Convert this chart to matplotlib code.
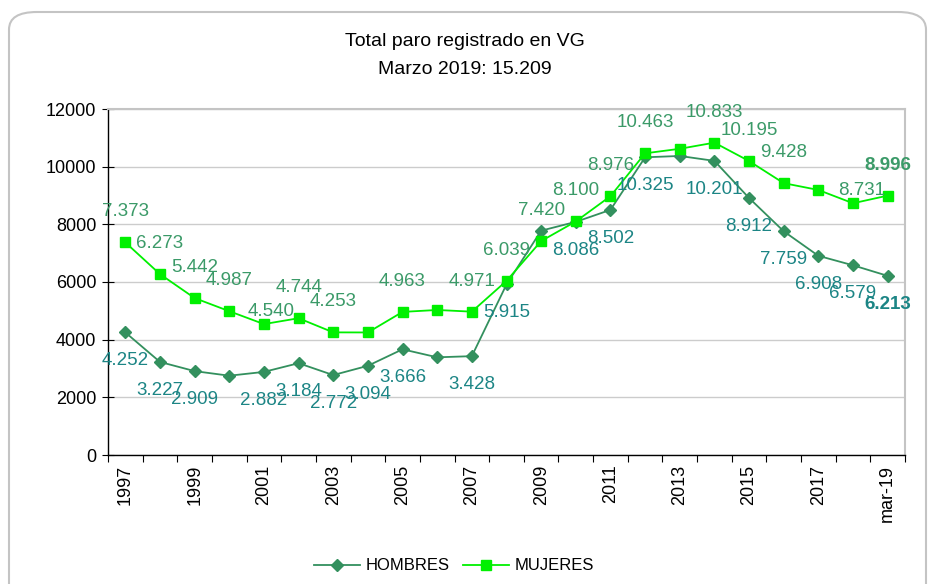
import numpy as np
import matplotlib.pyplot as plt
from matplotlib.patches import FancyBboxPatch

plt.rcParams['font.family'] = ['Liberation Sans', 'DejaVu Sans']

# datos
categorias = ['1997', '1998', '1999', '2000', '2001', '2002', '2003', '2004',
              '2005', '2006', '2007', '2008', '2009', '2010', '2011', '2012',
              '2013', '2014', '2015', '2016', '2017', '2018', 'mar-19']
hombres = [4252, 3227, 2909, 2750, 2882, 3184, 2772, 3094, 3666, 3388, 3428,
           5915, 7780, 8086, 8502, 10325, 10371, 10201, 8912, 7759, 6908, 6579, 6213]
mujeres = [7373, 6273, 5442, 4987, 4540, 4744, 4253, 4250, 4963, 5030, 4971,
           6039, 7420, 8100, 8976, 10463, 10620, 10833, 10195, 9428, 9192, 8731, 8996]
# puntos sin etiqueta en el original
sin_etq_h = ['2000', '2006', '2009', '2013']
sin_etq_m = ['2004', '2006', '2013', '2017']
# etiquetas movidas a mano en el original (desplazamiento en puntos)
desp_m = {'2001': (5, 9), '2018': (6, 9.5)}

c_h = '#33905e'
c_m = '#00f000'
c_txt_h = '#1c8585'
c_txt_m = '#3b9a68'

fig = plt.figure(figsize=(9.3, 5.84), dpi=100)
# marco redondeado
marco = FancyBboxPatch((9 / 930, -0.1), 917 / 930, 1.1 - 12 / 584,
                       boxstyle='round,pad=0,rounding_size=0.03',
                       transform=fig.transFigure, fill=False,
                       edgecolor='#c4c4c4', linewidth=1.5)
fig.patches.append(marco)

ax = fig.add_axes([108 / 930, 1 - 455 / 584, 797 / 930, 346 / 584])
x = np.arange(len(categorias))

ax.plot(x, hombres, color=c_h, marker='D', markersize=6, linewidth=1.3, label='HOMBRES')
ax.plot(x, mujeres, color=c_m, marker='s', markersize=7, linewidth=1.3, label='MUJERES')

for i in range(len(x)):
    ultimo = i == len(x) - 1
    peso = 'bold' if ultimo else 'normal'
    if categorias[i] not in sin_etq_m:
        off = desp_m.get(categorias[i], (0, 22))
        ax.annotate('{:,}'.format(mujeres[i]).replace(',', '.'), (x[i], mujeres[i]),
                    xytext=off, textcoords='offset points', ha='center', va='center',
                    fontsize=13.5, color=c_txt_m, fontweight=peso)
    if categorias[i] not in sin_etq_h:
        ax.annotate('{:,}'.format(hombres[i]).replace(',', '.'), (x[i], hombres[i]),
                    xytext=(0, -20.5), textcoords='offset points', ha='center', va='center',
                    fontsize=13.5, color=c_txt_h, fontweight=peso)

ax.set_xlim(-0.5, len(x) - 0.5)
ax.set_ylim(0, 12000)
ax.set_yticks(range(0, 12001, 2000))
ax.grid(axis='y', color='#cccccc', linewidth=1)
ax.set_axisbelow(True)

# ticks en los límites de categoría, etiquetas cada dos categorías
ax.set_xticks(np.arange(-0.5, len(x)), labels=[])
ax.set_xticks(x[::2], labels=categorias[::2], minor=True)
ax.tick_params(axis='x', which='major', direction='out', length=5, color='black')
ax.tick_params(axis='x', which='minor', length=0, labelsize=13, labelrotation=90, pad=7)
ax.tick_params(axis='y', direction='inout', length=9, labelsize=13, pad=4)

for s in ['top', 'right']:
    ax.spines[s].set_color('#c4c4c4')
    ax.spines[s].set_linewidth(1.5)
for s in ['left', 'bottom']:
    ax.spines[s].set_color('black')
    ax.spines[s].set_linewidth(1)

fig.text(0.5, 1 - 42 / 584, 'Total paro registrado en VG', ha='center', va='center', fontsize=14)
fig.text(0.5, 1 - 70 / 584, 'Marzo 2019: 15.209', ha='center', va='center', fontsize=14)

fig.legend(loc='center', bbox_to_anchor=(0.488, 1 - 566 / 584), ncol=2, frameon=False,
           fontsize=12, handlelength=2.8, columnspacing=0.8, handletextpad=0.3)

fig.savefig('out.png', dpi=100)
